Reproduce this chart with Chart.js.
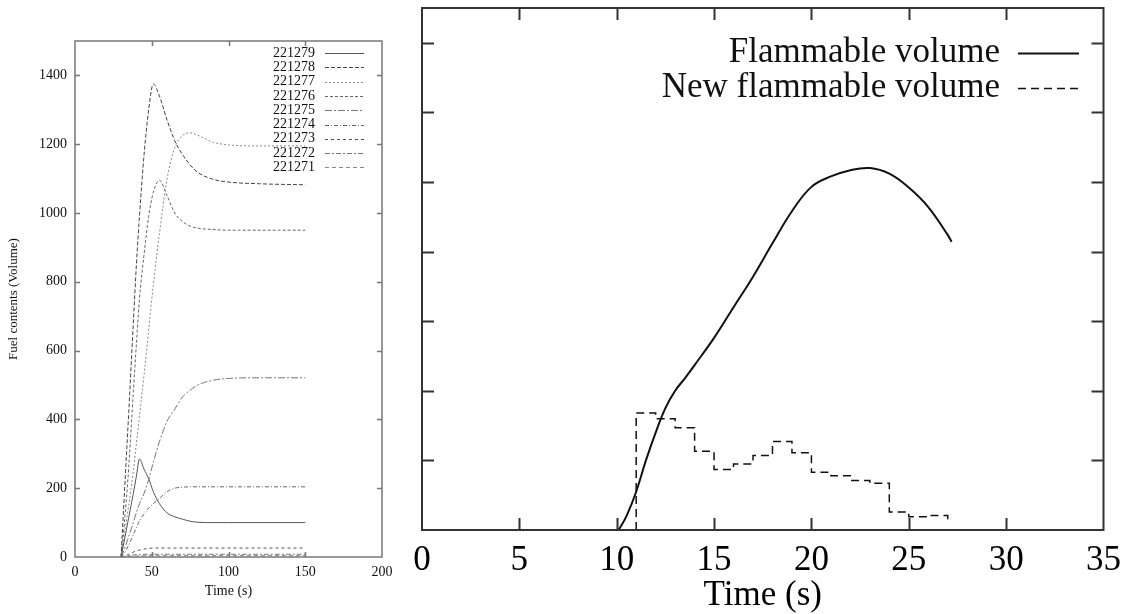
<!DOCTYPE html>
<html>
<head>
<meta charset="utf-8">
<script src="https://cdn.jsdelivr.net/npm/chart.js@4.4.1/dist/chart.umd.min.js"></script>
<style>
    html, body { margin: 0; padding: 0; background: #fff; }
    #wrap { position: relative; width: 1131px; height: 614px; overflow: hidden; }
    #left-box { position: absolute; left: 0; top: 0; }
    #right-box { position: absolute; left: 390px; top: 0; }
</style>
</head>
<body>
<div id="wrap">
    <div id="left-box"><canvas id="fuel-chart" width="400" height="614"></canvas></div>
    <div id="right-box"><canvas id="flam-chart" width="741" height="614"></canvas></div>
</div>
<script>
// ---- Left chart: fuel contents per sensor ----
const fuelTime = [30, 32, 35, 38, 40, 42, 45, 48, 51, 55, 60, 65, 70, 75, 80, 90, 100, 120, 150];
const fuel221279 = [0, 45, 115, 185, 235, 285, 255, 228, 190, 155, 128, 117, 110, 104, 101, 100, 100, 100, 100];
const fuel221278 = [0, 170, 420, 680, 850, 990, 1170, 1300, 1375, 1340, 1270, 1210, 1170, 1140, 1118, 1098, 1090, 1085, 1082];
const fuel221277 = [0, 60, 150, 250, 330, 410, 530, 660, 790, 940, 1100, 1190, 1225, 1233, 1226, 1206, 1198, 1195, 1195];
const fuel221276 = [0, 90, 260, 480, 620, 750, 880, 990, 1060, 1095, 1050, 1000, 975, 962, 956, 952, 950, 950, 950];
const fuel221275 = [0, 20, 60, 100, 130, 155, 185, 225, 275, 335, 395, 430, 465, 485, 500, 514, 519, 521, 521];
const fuel221274 = [0, 10, 35, 65, 85, 105, 125, 142, 155, 170, 190, 200, 203, 204, 204, 204, 204, 204, 204];
const fuel221273 = [0, 2, 8, 14, 18, 20, 23, 25, 26, 26, 26, 26, 26, 26, 26, 26, 26, 26, 26];
const fuel221272 = [0, 1, 4, 6, 7, 7, 8, 8, 8, 8, 8, 8, 8, 8, 8, 8, 8, 8, 8];
const fuel221271 = [0, 0, 1, 2, 3, 3, 4, 4, 4, 4, 4, 4, 4, 4, 4, 4, 4, 4, 4];
const fuelLabels = ['221279', '221278', '221277', '221276', '221275', '221274', '221273', '221272', '221271'];
const fuelXTicks = [0, 50, 100, 150, 200];

// ---- Right chart: flammable volume ----
const flamTime = [10.1, 10.5, 11, 11.5, 12, 12.5, 13, 13.5, 14, 15, 16, 17, 18, 19, 20, 21, 22, 23, 24, 25, 26, 27, 27.2];
const flamVolume = [0, 0.2, 0.55, 1.0, 1.4, 1.75, 2.0, 2.18, 2.37, 2.76, 3.2, 3.64, 4.12, 4.58, 4.93, 5.08, 5.17, 5.2, 5.12, 4.92, 4.64, 4.24, 4.14];
const newTime = [11, 11, 12, 13, 14, 15, 16, 17, 18, 19, 20, 21, 22, 23, 24, 25, 26, 27];
const newVolume = [0, 1.68, 1.6, 1.47, 1.13, 0.87, 0.95, 1.07, 1.27, 1.11, 0.83, 0.78, 0.71, 0.67, 0.26, 0.19, 0.21, 0.1];
const flamLabels = ['Flammable volume', 'New flammable volume'];

function toPoints(xs, ys) {
    return xs.map((x, i) => ({ x: x, y: ys[i] }));
}

// gnuplot style border with inward ticks on all four sides
const framePlugin = {
    id: 'gnuFrame',
    afterDatasetsDraw(chart, args, opts) {
        const ctx = chart.ctx;
        const area = chart.chartArea;
        const xs = chart.scales.x;
        const ys = chart.scales.y;
        ctx.save();
        ctx.strokeStyle = opts.color;
        ctx.lineWidth = opts.width;
        ctx.setLineDash([]);
        ctx.strokeRect(area.left, area.top, area.right - area.left, area.bottom - area.top);
        ctx.beginPath();
        xs.ticks.forEach(t => {
            const px = Math.round(xs.getPixelForValue(t.value)) + 0.5;
            if (px <= area.left + 2 || px >= area.right - 2) return;
            ctx.moveTo(px, area.bottom);
            ctx.lineTo(px, area.bottom - opts.tickLength);
            ctx.moveTo(px, area.top);
            ctx.lineTo(px, area.top + opts.tickLength);
        });
        ys.ticks.forEach(t => {
            const py = Math.round(ys.getPixelForValue(t.value)) + 0.5;
            if (py <= area.top + 2 || py >= area.bottom - 2) return;
            ctx.moveTo(area.left, py);
            ctx.lineTo(area.left + opts.tickLength, py);
            ctx.moveTo(area.right, py);
            ctx.lineTo(area.right - opts.tickLength, py);
        });
        ctx.stroke();
        ctx.restore();
    }
};

// key drawn gnuplot style: label right aligned, sample line after it
const keyPlugin = {
    id: 'gnuKey',
    afterDatasetsDraw(chart, args, opts) {
        const ctx = chart.ctx;
        ctx.save();
        ctx.font = opts.font;
        ctx.textAlign = 'right';
        ctx.textBaseline = 'middle';
        chart.data.datasets.forEach((ds, i) => {
            const y = opts.top + i * opts.rowHeight;
            ctx.fillStyle = '#111';
            ctx.fillText(ds.label, opts.textRight, y);
            ctx.strokeStyle = ds.borderColor;
            ctx.lineWidth = ds.borderWidth;
            ctx.setLineDash(ds.borderDash || []);
            ctx.beginPath();
            ctx.moveTo(opts.lineStart, Math.round(y) + 0.5);
            ctx.lineTo(opts.lineEnd, Math.round(y) + 0.5);
            ctx.stroke();
        });
        ctx.restore();
    }
};

const fuelSeries = [fuel221279, fuel221278, fuel221277, fuel221276, fuel221275, fuel221274, fuel221273, fuel221272, fuel221271];
const fuelDashes = [[], [4, 2], [2, 2], [3, 2], [7, 2, 2, 2], [4, 2, 1, 2], [3, 3], [5, 2, 2, 2], [4, 3]];
const fuelColors = ['#555', '#444', '#888', '#666', '#777', '#666', '#555', '#777', '#888'];

new Chart(document.getElementById('fuel-chart'), {
    type: 'line',
    data: {
        datasets: fuelSeries.map((vals, i) => ({
            label: fuelLabels[i],
            data: toPoints(fuelTime, vals),
            borderColor: fuelColors[i],
            borderWidth: 1,
            borderDash: fuelDashes[i],
            pointRadius: 0,
            fill: false,
            cubicInterpolationMode: 'monotone'
        }))
    },
    options: {
        responsive: false,
        animation: false,
        layout: { autoPadding: false, padding: { top: 41, right: 18, left: 0, bottom: 0 } },
        scales: {
            x: {
                type: 'linear',
                min: 0,
                max: 200,
                afterBuildTicks: s => { s.ticks = fuelXTicks.map(v => ({ value: v })); },
                afterFit: s => { s.height = 57; },
                grid: { display: false, drawTicks: false },
                border: { display: false },
                ticks: {
                    padding: 7,
                    maxRotation: 0,
                    autoSkip: false,
                    color: '#111',
                    callback: v => String(v),
                    font: { family: 'Liberation Serif', size: 14 }
                },
                title: {
                    display: true,
                    text: 'Time (s)',
                    color: '#111',
                    padding: { top: 0, bottom: 14 },
                    font: { family: 'Liberation Serif', size: 14 }
                }
            },
            y: {
                min: 0,
                max: 1500,
                afterFit: s => { s.width = 75; },
                grid: { display: false, drawTicks: false },
                border: { display: false },
                ticks: {
                    stepSize: 200,
                    includeBounds: false,
                    padding: 8,
                    color: '#111',
                    callback: v => String(v),
                    font: { family: 'Liberation Serif', size: 14 }
                },
                title: {
                    display: true,
                    text: 'Fuel contents (Volume)',
                    color: '#111',
                    padding: { top: 6, bottom: 0 },
                    font: { family: 'Liberation Serif', size: 13 }
                }
            }
        },
        plugins: {
            legend: { display: false },
            tooltip: { enabled: false },
            gnuFrame: { color: '#777', width: 1.5, tickLength: 5 },
            gnuKey: { font: '14px "Liberation Serif"', top: 53, rowHeight: 14.3, textRight: 315, lineStart: 325, lineEnd: 364 }
        }
    },
    plugins: [framePlugin, keyPlugin]
});

new Chart(document.getElementById('flam-chart'), {
    type: 'line',
    data: {
        datasets: [
            {
                label: flamLabels[0],
                data: toPoints(flamTime, flamVolume),
                borderColor: '#111',
                borderWidth: 2,
                pointRadius: 0,
                fill: false,
                tension: 0.4
            },
            {
                label: flamLabels[1],
                data: toPoints(newTime, newVolume),
                borderColor: '#111',
                borderWidth: 1.5,
                borderDash: [8, 5],
                pointRadius: 0,
                fill: false,
                stepped: 'before'
            }
        ]
    },
    options: {
        responsive: false,
        animation: false,
        layout: { autoPadding: false, padding: { top: 8, right: 11, left: 0, bottom: 0 } },
        scales: {
            x: {
                type: 'linear',
                min: 0,
                max: 35,
                afterFit: s => { s.height = 84; },
                grid: { display: false, drawTicks: false },
                border: { display: false },
                ticks: {
                    stepSize: 5,
                    padding: 10,
                    maxRotation: 0,
                    autoSkip: false,
                    color: '#000',
                    font: { family: 'Liberation Serif', size: 35 }
                },
                title: {
                    display: true,
                    text: 'Time (s)',
                    color: '#000',
                    padding: { top: 0, bottom: 1 },
                    font: { family: 'Liberation Serif', size: 35, lineHeight: 1.0 }
                }
            },
            y: {
                min: 0,
                max: 7.5,
                afterFit: s => { s.width = 32; },
                grid: { display: false, drawTicks: false },
                border: { display: false },
                ticks: { display: false, stepSize: 1, includeBounds: false }
            }
        },
        plugins: {
            legend: { display: false },
            tooltip: { enabled: false },
            gnuFrame: { color: '#333', width: 2, tickLength: 12 },
            gnuKey: { font: '35px "Liberation Serif"', top: 53, rowHeight: 35, textRight: 610, lineStart: 628, lineEnd: 689 }
        }
    },
    plugins: [framePlugin, keyPlugin]
});
</script>
</body>
</html>
